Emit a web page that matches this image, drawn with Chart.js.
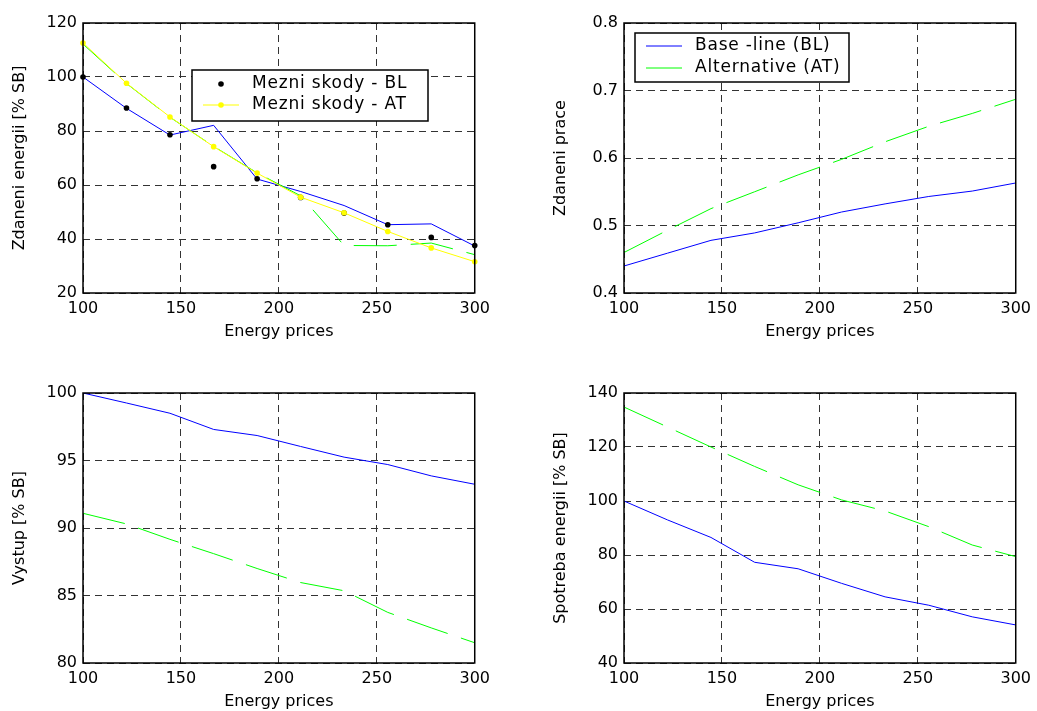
<!DOCTYPE html>
<html>
<head>
<meta charset="utf-8">
<script src="https://cdn.jsdelivr.net/npm/chart.js@4/dist/chart.umd.min.js"></script>
<style>
  html, body { margin: 0; padding: 0; background: #fff; overflow: hidden; }
  body { width: 1037px; height: 711px; position: relative; }
  canvas { position: absolute; }
</style>
</head>
<body>
<canvas id="c1" width="496" height="350" style="left:0px;top:0px"></canvas>
<canvas id="c2" width="496" height="350" style="left:541px;top:0px"></canvas>
<canvas id="c3" width="496" height="350" style="left:0px;top:370px"></canvas>
<canvas id="c4" width="496" height="350" style="left:541px;top:370px"></canvas>
<script>
// x positions of the model runs (energy price index)
const prices = [100, 122.2, 144.4, 166.7, 188.9, 211.1, 233.3, 255.6, 277.8, 300];

// top left: Zdaneni energii [% SB]
const energTaxBL = [100, 88.4, 78.5, 82.1, 62.2, 57.6, 52.4, 45.3, 45.6, 37.4];
const energTaxAT = [112.2, 97.6, 85.1, 74.3, 64.5, 56.0, 37.6, 37.5, 38.5, 34.2];
const mezniBL = [100, 88.5, 78.6, 66.8, 62.3, 55.4, 49.6, 45.3, 40.6, 37.6];
const mezniAT = [112.6, 97.7, 85.2, 74.2, 64.4, 55.5, 49.7, 42.8, 36.7, 31.6];

// top right: Zdaneni prace
const laborTaxBL = [0.440, 0.459, 0.478, 0.489, 0.504, 0.520, 0.532, 0.543, 0.551, 0.563];
const laborTaxAT = [0.460, 0.493, 0.525, 0.550, 0.575, 0.598, 0.624, 0.647, 0.666, 0.687];

// bottom left: Vystup [% SB]
const outputBL = [100, 99.26, 98.5, 97.3, 96.85, 96.04, 95.25, 94.7, 93.86, 93.24];
const outputAT = [91.09, 90.3, 89.16, 88.1, 87.0, 85.96, 85.35, 83.75, 82.6, 81.5];

// bottom right: Spotreba energii [% SB]
const energyUseBL = [100, 93.0, 86.5, 77.3, 74.9, 69.5, 64.5, 61.4, 57.1, 54.1];
const energyUseAT = [134.8, 127.4, 120.0, 112.8, 106.0, 100.4, 96.3, 90.5, 83.7, 79.4];

const BLUE = '#0000ff';
const GREEN = '#00ff00';
const YELLOW = '#ffff00';
const LONG_DASH = [43, 14];

Chart.defaults.font.family = "'DejaVu Sans', sans-serif";
Chart.defaults.font.size = 16;
Chart.defaults.color = '#000';

function pts(ys) {
  return ys.map((y, i) => ({ x: prices[i], y: y }));
}

// solid box round the plot area, like matlab axes
const frame = {
  id: 'frame',
  afterDatasetsDraw(chart) {
    const a = chart.chartArea;
    const ctx = chart.ctx;
    ctx.save();
    ctx.strokeStyle = '#000';
    ctx.lineWidth = 1.5;
    ctx.strokeRect(a.left, a.top, a.right - a.left, a.bottom - a.top);
    ctx.restore();
  }
};

// legend box inside the axes
const boxLegend = {
  id: 'boxLegend',
  afterDraw(chart, args, opts) {
    if (!opts.items) return;
    const a = chart.chartArea;
    const ctx = chart.ctx;
    ctx.save();
    ctx.fillStyle = '#fff';
    ctx.fillRect(a.left + opts.x, a.top + opts.y, opts.w, opts.h);
    ctx.strokeStyle = '#000';
    ctx.lineWidth = 1.5;
    ctx.strokeRect(a.left + opts.x, a.top + opts.y, opts.w, opts.h);
    ctx.font = "17px 'DejaVu Sans', sans-serif";
    ctx.letterSpacing = '0.8px';
    ctx.textBaseline = 'middle';
    ctx.textAlign = 'left';
    opts.items.forEach((it, i) => {
      const y = a.top + opts.rows[i];
      if (it.line) {
        ctx.strokeStyle = it.color;
        ctx.lineWidth = 1;
        ctx.beginPath();
        ctx.moveTo(a.left + opts.lineX[0], y);
        ctx.lineTo(a.left + opts.lineX[1], y);
        ctx.stroke();
      }
      if (it.dot) {
        ctx.fillStyle = it.color;
        ctx.beginPath();
        ctx.arc(a.left + (opts.lineX[0] + opts.lineX[1]) / 2, y, 2.8, 0, Math.PI * 2);
        ctx.fill();
      }
      ctx.fillStyle = '#000';
      ctx.fillText(it.label, a.left + opts.textX, y);
    });
    ctx.restore();
  }
};

function makeChart(id, datasets, yTitle, yMin, yMax, yStep, legend) {
  const ctx = document.getElementById(id).getContext('2d');
  return new Chart(ctx, {
    type: 'line',
    data: { datasets: datasets },
    options: {
      responsive: false,
      animation: false,
      devicePixelRatio: 1,
      layout: { padding: { top: 23, right: 18, left: 0, bottom: 0 } },
      plugins: {
        legend: { display: false },
        tooltip: { enabled: false },
        boxLegend: legend || {}
      },
      scales: {
        x: {
          type: 'linear',
          min: 100,
          max: 300,
          ticks: { stepSize: 50, padding: 6, maxRotation: 0 },
          grid: { color: '#333', lineWidth: 1, drawTicks: false },
          border: { display: false, dash: [7, 5] },
          title: { display: true, text: 'Energy prices', padding: { top: 0, bottom: 9 } },
          afterFit(scale) { scale.height = 57; }
        },
        y: {
          min: yMin,
          max: yMax,
          ticks: { stepSize: yStep, padding: 6 },
          grid: { color: '#333', lineWidth: 1, drawTicks: false },
          border: { display: false, dash: [7, 5] },
          title: { display: true, text: yTitle, padding: { top: 10, bottom: 0 } },
          afterFit(scale) { scale.width = 83; }
        }
      }
    },
    plugins: [frame, boxLegend]
  });
}

function lineSet(ys, color, dash, order) {
  return {
    data: pts(ys),
    borderColor: color,
    borderWidth: 1,
    borderDash: dash || [],
    pointRadius: 0,
    fill: false,
    tension: 0,
    order: order
  };
}

makeChart('c1', [
  lineSet(energTaxBL, BLUE, null, 4),
  lineSet(energTaxAT, GREEN, LONG_DASH, 3),
  {
    data: pts(mezniBL),
    showLine: false,
    pointRadius: 2.8,
    pointBackgroundColor: '#000',
    pointBorderWidth: 0,
    clip: false,
    order: 2
  },
  {
    data: pts(mezniAT),
    borderColor: YELLOW,
    borderWidth: 1,
    pointRadius: 2.8,
    pointBackgroundColor: YELLOW,
    pointBorderWidth: 0,
    tension: 0,
    clip: false,
    order: 1
  }
], 'Zdaneni energii [% SB]', 20, 120, 20, {
  x: 109, y: 47, w: 236, h: 51,
  rows: [61, 82], lineX: [120, 156], textX: 169,
  items: [
    { label: 'Mezni skody - BL', color: '#000', dot: true },
    { label: 'Mezni skody - AT', color: YELLOW, line: true, dot: true }
  ]
});

makeChart('c2', [
  lineSet(laborTaxBL, BLUE, null, 2),
  lineSet(laborTaxAT, GREEN, LONG_DASH, 1)
], 'Zdaneni prace', 0.4, 0.8, 0.1, {
  x: 11, y: 10, w: 214, h: 49,
  rows: [23, 45], lineX: [22, 58], textX: 71,
  items: [
    { label: 'Base -line (BL)', color: BLUE, line: true },
    { label: 'Alternative (AT)', color: GREEN, line: true }
  ]
});

makeChart('c3', [
  lineSet(outputBL, BLUE, null, 2),
  lineSet(outputAT, GREEN, LONG_DASH, 1)
], 'Vystup [% SB]', 80, 100, 5);

makeChart('c4', [
  lineSet(energyUseBL, BLUE, null, 2),
  lineSet(energyUseAT, GREEN, LONG_DASH, 1)
], 'Spotreba energii [% SB]', 40, 140, 20);
</script>
</body>
</html>
